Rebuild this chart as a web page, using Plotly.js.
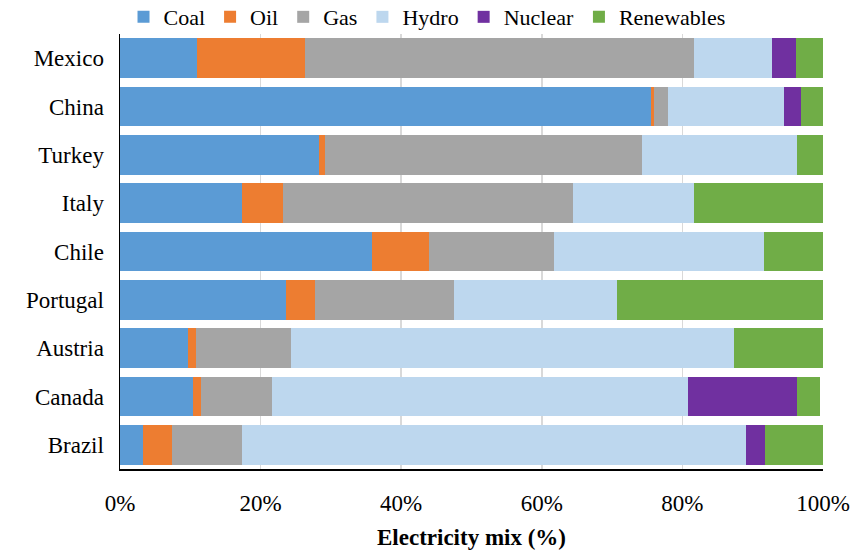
<!DOCTYPE html>
<html>
<head>
<meta charset="utf-8">
<script src="https://cdn.plot.ly/plotly-3.0.1.min.js"></script>
<style>html,body{margin:0;padding:0;background:#fff;}#chart{width:852px;height:553px;}</style>
</head>
<body>
<div id="chart"></div>
<script>
const countries = ["Mexico","China","Turkey","Italy","Chile","Portugal","Austria","Canada","Brazil"];
const coal       = [11.0, 75.6, 28.3, 17.4, 35.8, 23.6,  9.7, 10.4,  3.2];
const oil        = [15.3,  0.3,  0.8,  5.8,  8.2,  4.2,  1.1,  1.1,  4.2];
const gas        = [55.4,  2.0, 45.1, 41.2, 17.7, 19.7, 13.5, 10.1,  9.9];
const hydro      = [11.0, 16.6, 22.1, 17.3, 29.9, 23.2, 63.0, 59.2, 71.8];
const nuclear    = [ 3.4,  2.3,  0.0,  0.0,  0.0,  0.0,  0.0, 15.5,  2.7];
const renewables = [ 3.9,  3.2,  3.7, 18.3,  8.4, 29.3, 12.7,  3.3,  8.2];

const seriesNames = ["Coal","Oil","Gas","Hydro","Nuclear","Renewables"];
const seriesData = [coal, oil, gas, hydro, nuclear, renewables];
const colors = ["#5B9BD5","#ED7D31","#A5A5A5","#BDD7EE","#7030A0","#70AD47"];

const traces = seriesNames.map((n,i)=>({
  type:'bar', orientation:'h', name:n,
  y: countries, x: seriesData[i],
  marker:{color:colors[i], line:{width:0}},
  hoverinfo:'x+y+name'
}));

const font = "Times New Roman, Liberation Serif, serif";
const layout = {
  width:852, height:553,
  barmode:'stack', bargap:0.185,
  margin:{l:120, r:28.5, t:34, b:84, autoexpand:false},
  paper_bgcolor:'#fff', plot_bgcolor:'#fff',
  font:{family:font, size:21, color:'#000'},
  showlegend:true,
  legend:{orientation:'h', traceorder:'normal', x:0.005, xanchor:'left', y:1.039, yanchor:'middle',
          font:{family:font, size:22, color:'#000'}, itemwidth:30, tracegroupgap:0,
          bgcolor:'rgba(0,0,0,0)', borderwidth:0},
  xaxis:{range:[0,100], dtick:20, ticksuffix:'%', showgrid:true, gridcolor:'#d9d9d9', gridwidth:1.5,
         zeroline:false, showline:true, linecolor:'#000', linewidth:1.5, ticks:'', ticklen:0,
         ticklabelstandoff:13,
         tickfont:{family:font, size:23, color:'#000'},
         title:{text:'<b>Electricity mix (%)</b>', font:{family:font, size:23, color:'#000'}, standoff:14}},
  yaxis:{categoryorder:'array', categoryarray:countries, autorange:'reversed',
         showline:true, linecolor:'#000', linewidth:1.5, ticks:'', showgrid:false,
         tickfont:{family:font, size:23, color:'#000'}, ticklabelstandoff:10}
};
Plotly.newPlot('chart', traces, layout, {displayModeBar:false, staticPlot:true});
</script>
</body>
</html>
